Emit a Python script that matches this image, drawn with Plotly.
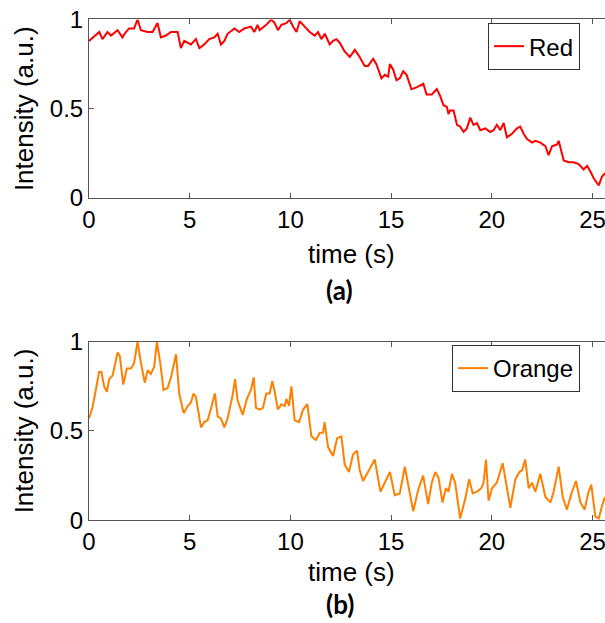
import plotly.graph_objects as go

# red channel
t_red = [0.0, 0.51, 0.67, 0.92, 1.09, 1.42, 1.66, 1.83, 1.99, 2.24, 2.41, 2.58, 2.91, 3.16, 3.40, 3.57,
         3.82, 4.07, 4.40, 4.56, 4.73, 5.06, 5.31, 5.48, 5.72, 5.97, 6.22, 6.39, 6.55, 6.72, 6.88, 7.22,
         7.46, 7.71, 8.04, 8.21, 8.37,
         8.47, 8.80, 9.05, 9.22, 9.38, 9.55, 9.80, 9.97, 10.13, 10.30, 10.46, 10.71, 10.96, 11.21, 11.37,
         11.54, 11.71, 11.95, 12.12, 12.28, 12.45, 12.70, 12.95, 13.20, 13.44, 13.69, 13.86, 14.11, 14.27,
         14.52, 14.69, 14.85, 14.94, 15.10, 15.27, 15.43, 15.60, 15.77, 16.01, 16.26, 16.60, 16.76, 16.93,
         17.02, 17.27, 17.44, 17.60, 17.77, 17.85, 17.93, 18.10, 18.27, 18.43, 18.60, 18.76, 18.93, 19.09,
         19.26, 19.43, 19.68, 19.92, 20.09, 20.25, 20.42, 20.59, 20.75, 21.00, 21.25, 21.41, 21.58, 21.75,
         22.00, 22.16, 22.41, 22.66, 22.82, 22.99, 23.24, 23.32, 23.57, 23.82, 24.07, 24.31, 24.56, 24.73,
         24.89, 25.06, 25.31, 25.47, 25.64]
red = [0.88, 0.93, 0.89, 0.93, 0.91, 0.94, 0.90, 0.93, 0.95, 0.95, 1.00, 0.94, 0.93, 0.93, 0.98, 0.90,
       0.91, 0.93, 0.93, 0.84, 0.88, 0.86, 0.89, 0.84, 0.86, 0.89, 0.90, 0.92, 0.86, 0.88, 0.92, 0.95,
       0.93, 0.95, 0.96, 0.93, 0.97,
       0.94, 0.97, 1.00, 0.98, 0.94, 0.97, 0.98, 1.00, 0.96, 0.93, 0.99, 0.96, 0.93, 0.91, 0.93,
       0.89, 0.92, 0.86, 0.88, 0.89, 0.87, 0.82, 0.79, 0.83, 0.79, 0.74, 0.74, 0.78, 0.75,
       0.67, 0.69, 0.68, 0.75, 0.72, 0.66, 0.67, 0.71, 0.69, 0.61, 0.62, 0.64, 0.58, 0.58,
       0.58, 0.61, 0.57, 0.52, 0.51, 0.47, 0.49, 0.49, 0.41, 0.40, 0.37, 0.39, 0.45, 0.41,
       0.42, 0.38, 0.39, 0.37, 0.38, 0.41, 0.38, 0.42, 0.34, 0.36, 0.39, 0.40, 0.36, 0.33,
       0.31, 0.32, 0.31, 0.29, 0.24, 0.29, 0.30, 0.32, 0.21, 0.20, 0.20, 0.19, 0.16, 0.18,
       0.15, 0.11, 0.07, 0.12, 0.14]

# orange channel
t_orange = [0.0, 0.17, 0.34, 0.50, 0.62, 0.75, 0.89, 1.00, 1.17, 1.42, 1.53, 1.70, 1.88, 2.08, 2.24, 2.41,
            2.58, 2.77, 2.91, 3.07, 3.24, 3.37, 3.54, 3.70, 3.90, 4.07, 4.32, 4.48, 4.70, 4.90, 5.06, 5.19,
            5.31, 5.56, 5.72, 5.89, 6.09, 6.25, 6.39, 6.55, 6.72, 6.88, 7.13, 7.25, 7.38, 7.63, 7.84, 8.04,
            8.18, 8.29,
            8.47, 8.64, 8.80, 8.97, 9.10, 9.22, 9.38, 9.55, 9.72, 9.80, 9.93, 10.05, 10.21, 10.43, 10.63,
            10.84, 11.04, 11.26, 11.46, 11.62, 11.70, 11.87, 12.12, 12.32, 12.53, 12.70, 12.91, 13.11, 13.31,
            13.44, 13.61, 13.86, 14.19, 14.47, 14.64, 14.94, 15.18, 15.43, 15.68, 15.93, 16.10, 16.34, 16.59,
            16.84,
            17.02, 17.19, 17.35, 17.55, 17.72, 17.85, 18.02, 18.18, 18.43, 18.68, 18.88, 19.05, 19.26, 19.48,
            19.59, 19.71, 19.84, 20.01, 20.25, 20.54, 20.70, 20.92, 21.17, 21.37, 21.50, 21.66, 21.83, 22.00,
            22.16, 22.41, 22.66, 22.91, 23.07, 23.32, 23.52, 23.73, 23.95, 24.18, 24.40, 24.61, 24.78, 24.94,
            25.14, 25.31, 25.47, 25.62]
orange = [0.57, 0.63, 0.73, 0.83, 0.83, 0.75, 0.72, 0.79, 0.81, 0.94, 0.92, 0.76, 0.85, 0.85, 0.88, 1.00,
          0.88, 0.77, 0.84, 0.82, 0.86, 1.00, 0.88, 0.73, 0.74, 0.80, 0.93, 0.71, 0.60, 0.64, 0.66, 0.71,
          0.69, 0.52, 0.55, 0.56, 0.64, 0.71, 0.58, 0.57, 0.52, 0.57, 0.70, 0.79, 0.67, 0.59, 0.68, 0.73,
          0.80, 0.63,
          0.62, 0.63, 0.71, 0.71, 0.78, 0.72, 0.62, 0.65, 0.64, 0.68, 0.64, 0.75, 0.56, 0.55, 0.62,
          0.65, 0.47, 0.45, 0.49, 0.49, 0.55, 0.41, 0.36, 0.46, 0.47, 0.31, 0.27, 0.37, 0.39,
          0.28, 0.22, 0.27, 0.34, 0.16, 0.20, 0.27, 0.14, 0.15, 0.30, 0.15, 0.05, 0.17, 0.25,
          0.09,
          0.21, 0.27, 0.24, 0.10, 0.18, 0.16, 0.26, 0.21, 0.01, 0.12, 0.23, 0.15, 0.16, 0.18,
          0.21, 0.34, 0.11, 0.18, 0.21, 0.32, 0.22, 0.07, 0.23, 0.27, 0.28, 0.34, 0.18, 0.21,
          0.16, 0.26, 0.13, 0.10, 0.16, 0.30, 0.13, 0.06, 0.15, 0.22, 0.10, 0.06, 0.15, 0.20,
          0.02, 0.01, 0.08, 0.13]

x_ticks = [0, 5, 10, 15, 20, 25]
y_ticks = [0, 0.5, 1]
y_ticktext = ['0', '0.5', '1']

FONT = 'Liberation Sans, Arial, sans-serif'
AX = '#555555'

fig = go.Figure()
fig.add_trace(go.Scatter(x=t_red, y=red, mode='lines', name='Red',
                         line={'color': '#ff0000', 'width': 2},
                         xaxis='x', yaxis='y', legend='legend'))
fig.add_trace(go.Scatter(x=t_orange, y=orange, mode='lines', name='Orange',
                         line={'color': '#ff8000', 'width': 2},
                         xaxis='x2', yaxis='y2', legend='legend2'))

xstyle = dict(range=[0, 25.62], tickvals=x_ticks, showline=True, linecolor=AX, linewidth=1,
              mirror='ticks', ticks='inside', ticklen=5, tickcolor=AX, showgrid=False,
              zeroline=False, automargin=False, domain=[0, 1], ticklabeloverflow='allow',
              tickfont={'size': 24, 'color': 'black', 'family': FONT})
ystyle = dict(range=[0, 1], tickvals=y_ticks, ticktext=y_ticktext, showline=True, linecolor=AX,
              linewidth=1, ticks='inside', ticklen=5, tickcolor=AX, showgrid=False,
              zeroline=False, automargin=False, ticklabeloverflow='allow',
              tickfont={'size': 24, 'color': 'black', 'family': FONT},
              title={'text': 'Intensity (a.u.)', 'standoff': 8,
                     'font': {'size': 26, 'color': 'black', 'family': FONT}})

legend_style = dict(bgcolor='white', bordercolor='#333333', borderwidth=1,
                    font={'size': 24, 'color': 'black', 'family': FONT},
                    xanchor='left', yanchor='top')

fig.update_layout(
    width=605, height=623,
    margin={'l': 89, 'r': 0, 't': 0, 'b': 0},
    plot_bgcolor='white', paper_bgcolor='white',
    xaxis={**xstyle, 'anchor': 'y'},
    yaxis={**ystyle, 'anchor': 'x', 'domain': [0.6822, 0.9687]},
    xaxis2={**xstyle, 'anchor': 'y2'},
    yaxis2={**ystyle, 'anchor': 'x2', 'domain': [0.1649, 0.4515]},
    legend={**legend_style, 'x': 0.7733, 'y': 0.963},
    legend2={**legend_style, 'x': 0.7035, 'y': 0.4462},
    showlegend=True,
)

# axis titles and panel labels, centred on the full (cut-off) axis
for y, text in [(0.5923, 'time (s)'), (0.0819, 'time (s)')]:
    fig.add_annotation(x=0.5078, y=y, xref='paper', yref='paper', text=text, showarrow=False,
                       xanchor='center', yanchor='middle',
                       font={'size': 26, 'color': 'black', 'family': FONT})
for y, text in [(0.5345, '<b>(a)</b>'), (0.0305, '<b>(b)</b>')]:
    fig.add_annotation(x=0.4864, y=y, xref='paper', yref='paper', text=text, showarrow=False,
                       xanchor='center', yanchor='middle',
                       font={'size': 26, 'color': 'black', 'family': 'Lato, Open Sans, sans-serif'})

# drop the default body margin so the 605x623 figure fills the window exactly
fig.write_html('out.html', config={'displayModeBar': False},
               post_script="document.body.style.margin='0';document.body.style.overflow='hidden';")
